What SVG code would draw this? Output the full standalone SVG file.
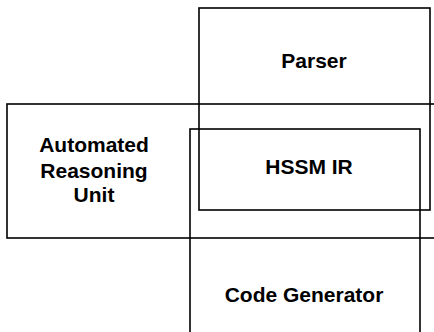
<svg xmlns="http://www.w3.org/2000/svg" width="434" height="332" viewBox="0 0 434 332">
<style>
rect.box{fill:none;stroke:#000;stroke-width:1.6}
text{font-family:"Liberation Sans",Arial,sans-serif;font-weight:bold;font-size:21px;fill:#000;text-anchor:middle}
</style>
<rect width="434" height="332" fill="#fff"/>
<g id="parser">
<rect class="box" x="199" y="8" width="231" height="202"/>
<text x="314" y="68">Parser</text>
</g>
<g id="reasoning">
<rect class="box" x="7" y="104" width="428" height="134"/>
<text x="94" y="152">Automated</text>
<text x="94" y="178">Reasoning</text>
<text x="94" y="202">Unit</text>
</g>
<g id="codegen">
<rect class="box" x="190" y="129" width="230" height="215"/>
<text x="304" y="302">Code Generator</text>
</g>
<g id="hssm">
<text x="309" y="174">HSSM IR</text>
</g>
<g id="connectors"></g>
</svg>
